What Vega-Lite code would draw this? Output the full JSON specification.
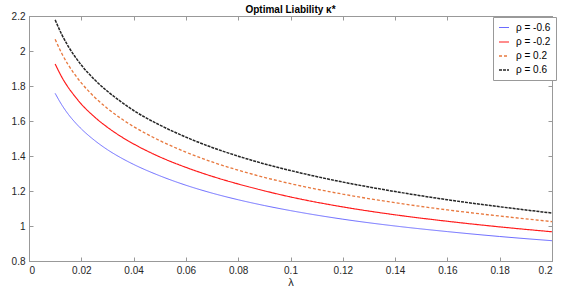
{
  "$schema": "https://vega.github.io/schema/vega-lite/v6.json",
  "autosize": {"type": "none"},
  "width": 523,
  "height": 245,
  "padding": {"left": 29, "top": 16, "right": 29, "bottom": 30},
  "background": "white",
  "title": {"text": "Optimal Liability κ*", "fontSize": 10, "fontWeight": "bold", "font": "Liberation Sans", "color": "#000000", "anchor": "middle", "offset": 0, "dy": 4},
  "config": {
    "view": {"stroke": "#999999", "strokeWidth": 1},
    "axis": {"grid": false, "domainColor": "#999999", "tickColor": "#999999", "labelFont": "Liberation Sans", "labelFontSize": 10, "labelColor": "#262626", "tickSize": -4, "titleFont": "Liberation Sans", "titleFontWeight": "normal", "titleFontSize": 11, "titleColor": "#262626"}
  },
  "datasets": {
    "curves": [
      {"l": 0.01, "v": 1.758, "s": "ρ = -0.6"},
      {"l": 0.0125, "v": 1.693, "s": "ρ = -0.6"},
      {"l": 0.015, "v": 1.639, "s": "ρ = -0.6"},
      {"l": 0.0175, "v": 1.594, "s": "ρ = -0.6"},
      {"l": 0.02, "v": 1.555, "s": "ρ = -0.6"},
      {"l": 0.025, "v": 1.49, "s": "ρ = -0.6"},
      {"l": 0.03, "v": 1.436, "s": "ρ = -0.6"},
      {"l": 0.035, "v": 1.391, "s": "ρ = -0.6"},
      {"l": 0.04, "v": 1.352, "s": "ρ = -0.6"},
      {"l": 0.05, "v": 1.287, "s": "ρ = -0.6"},
      {"l": 0.06, "v": 1.233, "s": "ρ = -0.6"},
      {"l": 0.07, "v": 1.188, "s": "ρ = -0.6"},
      {"l": 0.08, "v": 1.15, "s": "ρ = -0.6"},
      {"l": 0.09, "v": 1.117, "s": "ρ = -0.6"},
      {"l": 0.1, "v": 1.088, "s": "ρ = -0.6"},
      {"l": 0.12, "v": 1.039, "s": "ρ = -0.6"},
      {"l": 0.14, "v": 1.0, "s": "ρ = -0.6"},
      {"l": 0.16, "v": 0.968, "s": "ρ = -0.6"},
      {"l": 0.18, "v": 0.94, "s": "ρ = -0.6"},
      {"l": 0.2, "v": 0.916, "s": "ρ = -0.6"},
      {"l": 0.01, "v": 1.926, "s": "ρ = -0.2"},
      {"l": 0.0125, "v": 1.852, "s": "ρ = -0.2"},
      {"l": 0.015, "v": 1.792, "s": "ρ = -0.2"},
      {"l": 0.0175, "v": 1.742, "s": "ρ = -0.2"},
      {"l": 0.02, "v": 1.697, "s": "ρ = -0.2"},
      {"l": 0.025, "v": 1.624, "s": "ρ = -0.2"},
      {"l": 0.03, "v": 1.564, "s": "ρ = -0.2"},
      {"l": 0.035, "v": 1.513, "s": "ρ = -0.2"},
      {"l": 0.04, "v": 1.469, "s": "ρ = -0.2"},
      {"l": 0.05, "v": 1.395, "s": "ρ = -0.2"},
      {"l": 0.06, "v": 1.335, "s": "ρ = -0.2"},
      {"l": 0.07, "v": 1.284, "s": "ρ = -0.2"},
      {"l": 0.08, "v": 1.24, "s": "ρ = -0.2"},
      {"l": 0.09, "v": 1.201, "s": "ρ = -0.2"},
      {"l": 0.1, "v": 1.166, "s": "ρ = -0.2"},
      {"l": 0.12, "v": 1.109, "s": "ρ = -0.2"},
      {"l": 0.14, "v": 1.064, "s": "ρ = -0.2"},
      {"l": 0.16, "v": 1.027, "s": "ρ = -0.2"},
      {"l": 0.18, "v": 0.995, "s": "ρ = -0.2"},
      {"l": 0.2, "v": 0.967, "s": "ρ = -0.2"},
      {"l": 0.01, "v": 2.067, "s": "ρ = 0.2"},
      {"l": 0.0125, "v": 1.987, "s": "ρ = 0.2"},
      {"l": 0.015, "v": 1.921, "s": "ρ = 0.2"},
      {"l": 0.0175, "v": 1.866, "s": "ρ = 0.2"},
      {"l": 0.02, "v": 1.818, "s": "ρ = 0.2"},
      {"l": 0.025, "v": 1.737, "s": "ρ = 0.2"},
      {"l": 0.03, "v": 1.672, "s": "ρ = 0.2"},
      {"l": 0.035, "v": 1.616, "s": "ρ = 0.2"},
      {"l": 0.04, "v": 1.568, "s": "ρ = 0.2"},
      {"l": 0.05, "v": 1.488, "s": "ρ = 0.2"},
      {"l": 0.06, "v": 1.422, "s": "ρ = 0.2"},
      {"l": 0.07, "v": 1.366, "s": "ρ = 0.2"},
      {"l": 0.08, "v": 1.319, "s": "ρ = 0.2"},
      {"l": 0.09, "v": 1.278, "s": "ρ = 0.2"},
      {"l": 0.1, "v": 1.242, "s": "ρ = 0.2"},
      {"l": 0.12, "v": 1.182, "s": "ρ = 0.2"},
      {"l": 0.14, "v": 1.133, "s": "ρ = 0.2"},
      {"l": 0.16, "v": 1.092, "s": "ρ = 0.2"},
      {"l": 0.18, "v": 1.057, "s": "ρ = 0.2"},
      {"l": 0.2, "v": 1.025, "s": "ρ = 0.2"},
      {"l": 0.01, "v": 2.178, "s": "ρ = 0.6"},
      {"l": 0.0125, "v": 2.095, "s": "ρ = 0.6"},
      {"l": 0.015, "v": 2.027, "s": "ρ = 0.6"},
      {"l": 0.0175, "v": 1.97, "s": "ρ = 0.6"},
      {"l": 0.02, "v": 1.92, "s": "ρ = 0.6"},
      {"l": 0.025, "v": 1.837, "s": "ρ = 0.6"},
      {"l": 0.03, "v": 1.77, "s": "ρ = 0.6"},
      {"l": 0.035, "v": 1.712, "s": "ρ = 0.6"},
      {"l": 0.04, "v": 1.66, "s": "ρ = 0.6"},
      {"l": 0.05, "v": 1.577, "s": "ρ = 0.6"},
      {"l": 0.06, "v": 1.508, "s": "ρ = 0.6"},
      {"l": 0.07, "v": 1.449, "s": "ρ = 0.6"},
      {"l": 0.08, "v": 1.399, "s": "ρ = 0.6"},
      {"l": 0.09, "v": 1.355, "s": "ρ = 0.6"},
      {"l": 0.1, "v": 1.317, "s": "ρ = 0.6"},
      {"l": 0.12, "v": 1.251, "s": "ρ = 0.6"},
      {"l": 0.14, "v": 1.197, "s": "ρ = 0.6"},
      {"l": 0.16, "v": 1.15, "s": "ρ = 0.6"},
      {"l": 0.18, "v": 1.11, "s": "ρ = 0.6"},
      {"l": 0.2, "v": 1.074, "s": "ρ = 0.6"}
    ]
  },
  "data": {"name": "curves"},
  "layer": [
    {
      "mark": {"type": "line", "interpolate": "monotone"},
      "encoding": {
        "x": {"field": "l", "type": "quantitative", "scale": {"domain": [0, 0.2], "nice": false}, "axis": {"title": "λ", "values": [0, 0.02, 0.04, 0.06, 0.08, 0.1, 0.12, 0.14, 0.16, 0.18, 0.2], "format": "~g", "labelPadding": 8, "titlePadding": 1}},
        "y": {"field": "v", "type": "quantitative", "scale": {"domain": [0.8, 2.2], "nice": false, "zero": false}, "axis": {"title": null, "values": [0.8, 1, 1.2, 1.4, 1.6, 1.8, 2, 2.2], "format": "~g", "labelPadding": 8}},
        "color": {"field": "s", "type": "nominal", "scale": {"domain": ["ρ = -0.6", "ρ = -0.2", "ρ = 0.2", "ρ = 0.6"], "range": ["#6b6bff", "#ff1a1a", "#e8793f", "#262626"]},
          "legend": {"title": null, "orient": "none", "legendX": 464, "legendY": 1, "symbolType": "stroke", "symbolSize": 100, "labelFont": "Liberation Sans", "labelFontSize": 10, "labelColor": "#000000", "strokeColor": "#999999", "fillColor": "white", "padding": 5, "rowPadding": 3, "labelOffset": 6, "symbolStrokeWidth": 1}},
        "strokeDash": {"field": "s", "type": "nominal", "scale": {"domain": ["ρ = -0.6", "ρ = -0.2", "ρ = 0.2", "ρ = 0.6"], "range": [[1, 0], [1, 0], [3, 2], [3, 1]]}},
        "strokeWidth": {"field": "s", "type": "nominal", "scale": {"domain": ["ρ = -0.6", "ρ = -0.2", "ρ = 0.2", "ρ = 0.6"], "range": [1, 1.5, 1.2, 1.1]}, "legend": null}
      }
    },
    {
      "mark": {"type": "line", "opacity": 0},
      "encoding": {
        "x": {"field": "l", "type": "quantitative", "scale": {"domain": [0, 0.2], "nice": false}, "axis": {"orient": "top", "title": null, "labels": false, "values": [0, 0.02, 0.04, 0.06, 0.08, 0.1, 0.12, 0.14, 0.16, 0.18, 0.2]}},
        "y": {"field": "v", "type": "quantitative", "scale": {"domain": [0.8, 2.2], "nice": false, "zero": false}, "axis": {"orient": "right", "title": null, "labels": false, "values": [0.8, 1, 1.2, 1.4, 1.6, 1.8, 2, 2.2]}},
        "detail": {"field": "s", "type": "nominal"}
      }
    }
  ],
  "resolve": {"axis": {"x": "independent", "y": "independent"}}
}
